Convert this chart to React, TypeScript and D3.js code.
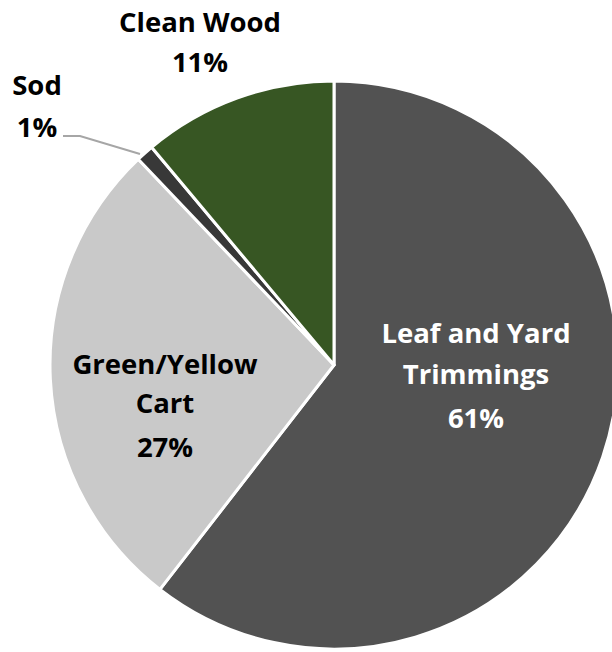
import React from "react";
import * as d3 from "d3";

const categories = ["Leaf and Yard Trimmings", "Green/Yellow Cart", "Sod", "Clean Wood"];
const values = [60.5, 27.4, 1.0, 11.1];
const percentLabels = ["61%", "27%", "1%", "11%"];
const colors = ["#525252", "#c9c9c9", "#383838", "#375623"];

const W = 612, H = 652;
const cx = 334, cy = 365, R = 284;

export default function App() {
  const pie = d3.pie<number>().sort(null).value((d) => d)(values);
  const arc = d3.arc<d3.PieArcDatum<number>>().innerRadius(0).outerRadius(R);
  const font = "'Open Sans', sans-serif";
  return (
    <svg width={W} height={H} style={{ position: "absolute", left: 0, top: 0 }}>
      <rect width={W} height={H} fill="#fff" />
      <g transform={`translate(${cx},${cy})`}>
        {pie.map((p, i) => (
          <path key={categories[i]} d={arc(p) || ""} fill={colors[i]} stroke="#fff" strokeWidth={3} strokeLinejoin="round" />
        ))}
      </g>
      <polyline points="63,136 80,136 140,154" fill="none" stroke="#a6a6a6" strokeWidth={2} />
      <g fontFamily={font} fontWeight={700} fontSize={27.5} textAnchor="middle">
        <text x={200} y={32} fill="#000">Clean Wood</text>
        <text x={200} y={72} fill="#000">{percentLabels[3]}</text>
        <text x={37} y={95} fill="#000">Sod</text>
        <text x={37} y={137} fill="#000">{percentLabels[2]}</text>
        <text x={476} y={343} fill="#fff">Leaf and Yard</text>
        <text x={476} y={384} fill="#fff">Trimmings</text>
        <text x={476} y={428} fill="#fff">{percentLabels[0]}</text>
        <text x={165} y={374} fill="#000">Green/Yellow</text>
        <text x={165} y={413} fill="#000">Cart</text>
        <text x={165} y={457} fill="#000">{percentLabels[1]}</text>
      </g>
    </svg>
  );
}
